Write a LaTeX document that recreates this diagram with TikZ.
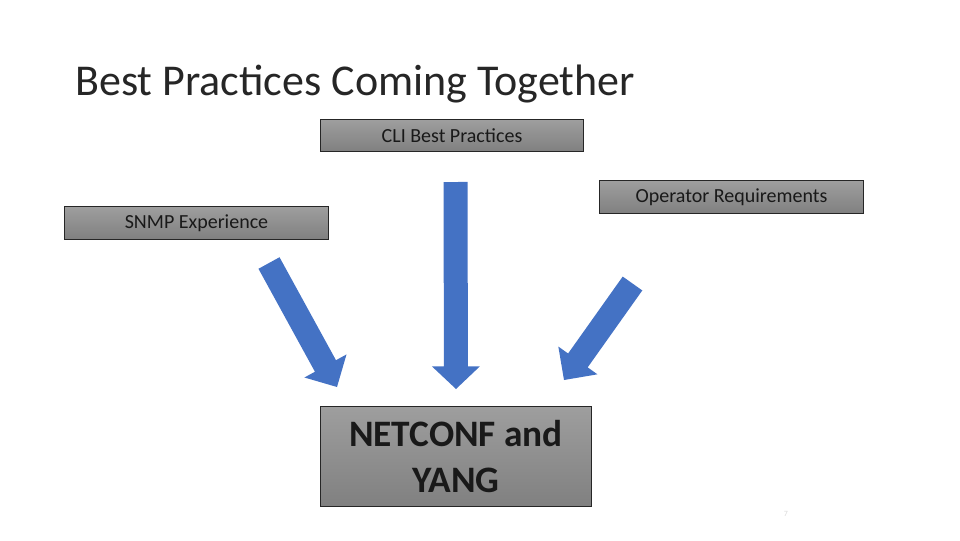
\documentclass[tikz,border=0pt]{standalone}
\usepackage{fontspec}
\setmainfont{Carlito}
\usetikzlibrary{calc}
\definecolor{arrowblue}{RGB}{68,114,196}
\definecolor{boxtop}{RGB}{158,158,158}
\definecolor{boxbot}{RGB}{128,128,128}
\tikzset{
  graybox/.style={draw=black!85, line width=0.75pt, top color=boxtop, bottom color=boxbot,
    inner sep=0pt, anchor=north west, align=center, text=black!90},
  smalltext/.style={font=\fontsize{15}{18}\selectfont},
  bigtext/.style={font=\fontsize{28}{35}\selectfont\bfseries},
}
% #1 start, #2 tip, #3 shaft half width, #4 head half width, #5 head length
\newcommand{\fatarrow}[5]{%
  \coordinate (hb) at ($(#2)!#5!(#1)$);
  \fill[arrowblue] ($(#1)!#3!90:(#2)$) -- ($(hb)!#3!90:(#2)$) -- ($(hb)!#4!90:(#2)$) -- (#2)
    -- ($(hb)!#4!-90:(#2)$) -- ($(hb)!#3!-90:(#2)$) -- ($(#1)!#3!-90:(#2)$) -- cycle;
}
\begin{document}
\begin{tikzpicture}[x=0.75pt,y=-0.75pt]
\useasboundingbox (0,0) rectangle (960,540);
\node[anchor=base west, font=\fontsize{33}{40}\selectfont, text=black!85, inner sep=0pt] (title) at (75,95) {Best Practices Coming Together};

\node[graybox, smalltext, minimum width=197.25pt, minimum height=24pt] (cli) at (320,119) {CLI Best Practices};
\node[graybox, smalltext, minimum width=198pt, minimum height=24.75pt] (oper) at (599,180) {Operator Requirements};
\node[graybox, smalltext, minimum width=198pt, minimum height=24.75pt] (snmp) at (64,206) {SNMP Experience};
\node[graybox, bigtext, minimum width=203.25pt, minimum height=75pt] (netconf) at (320,406) {NETCONF and\\YANG};

\coordinate (cA) at (455.5,182);
\coordinate (cB) at (456,389);
\coordinate (lA) at (269,263);
\coordinate (lB) at (337,387);
\coordinate (rA) at (632.5,283.5);
\coordinate (rB) at (564,380);
\fatarrow{cA}{cB}{9pt}{18pt}{17pt}
\fatarrow{lA}{lB}{9pt}{18pt}{18pt}
\fatarrow{rA}{rB}{9pt}{18pt}{18pt}

\node[font=\fontsize{6}{7}\selectfont, text=black!15, inner sep=0pt] (num) at (786,514) {7};
\end{tikzpicture}
\end{document}
